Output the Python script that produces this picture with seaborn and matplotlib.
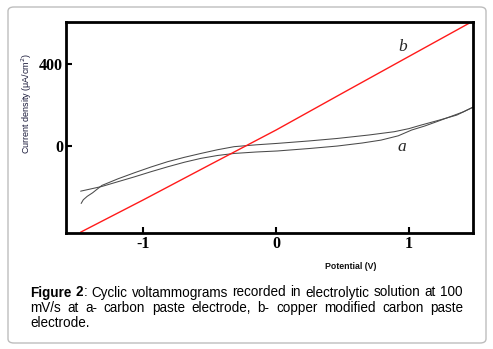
import matplotlib
matplotlib.use("Agg")
import matplotlib.pyplot as plt
import seaborn as sns
import pandas as pd
from matplotlib.patches import FancyBboxPatch

# ---------------- data ----------------
# curve a (carbon paste electrode) - two scan branches
a1_potential = [-1.47, -1.40, -1.31, -1.19, -1.064, -0.94, -0.814, -0.69, -0.565, -0.44, -0.315, -0.15, 0.01, 0.25, 0.46, 0.65, 0.79, 0.92, 1.02, 1.12, 1.21, 1.31, 1.41, 1.49]
a1_current = [-220, -210, -197, -174, -150, -125, -101, -79, -60, -46, -36, -29, -24, -12, 0, 15, 29, 50, 78, 98, 119, 143, 167, 192]
a2_potential = [-1.466, -1.45, -1.42, -1.38, -1.31, -1.19, -1.064, -0.94, -0.814, -0.69, -0.565, -0.44, -0.315, -0.15, 0.01, 0.25, 0.46, 0.70, 0.89, 1.00, 1.09, 1.22, 1.36, 1.49]
a2_current = [-280, -262, -245, -228, -192, -160, -130, -102, -76, -55, -36, -18, -3, 6, 13, 25, 37, 54, 70, 85, 102, 125, 151, 192]
# curve b (copper modified carbon paste electrode)
b_potential = [-1.47, -1.0, -0.5, 0.0, 0.5, 1.0, 1.47]
b_current = [-420, -263, -92, 78, 258, 437, 605]

x_ticks = [-1, 0, 1]
y_ticks = [0, 400]

df_a1 = pd.DataFrame({"Potential": a1_potential, "Current": a1_current})
df_a2 = pd.DataFrame({"Potential": a2_potential, "Current": a2_current})
df_b = pd.DataFrame({"Potential": b_potential, "Current": b_current})

sns.set_theme(style="white")

fig = plt.figure(figsize=(4.93, 3.49), dpi=100)
fig.patch.set_facecolor("white")

# rounded border
border = FancyBboxPatch((8 / 493, 6 / 349), (478 / 493), (336 / 349),
                        boxstyle="round,pad=0,rounding_size=0.012",
                        transform=fig.transFigure, facecolor="none",
                        edgecolor="#bdbdbd", linewidth=1.0)
fig.patches.append(border)

ax = fig.add_axes([66 / 493, 1 - 233 / 349, (472.7 - 66) / 493, (233 - 22) / 349])

sns.lineplot(data=df_a1, x="Potential", y="Current", sort=False, ax=ax,
             color="#4a4a4a", linewidth=0.75, estimator=None)
sns.lineplot(data=df_a2, x="Potential", y="Current", sort=False, ax=ax,
             color="#4a4a4a", linewidth=0.75, estimator=None)
sns.lineplot(data=df_b, x="Potential", y="Current", sort=False, ax=ax,
             color="#ff1a1a", linewidth=1.0, estimator=None)

ax.set_xlim(-1.58, 1.48)
ax.set_ylim(-424, 605)
ax.set_xticks(x_ticks)
ax.set_yticks(y_ticks)
ax.set_xticklabels([str(t) for t in x_ticks], family="Liberation Serif",
                   fontsize=11.5, fontweight="bold")
ax.set_yticklabels([str(t) for t in y_ticks], family="Liberation Serif",
                   fontsize=11.5, fontweight="bold")
ax.tick_params(direction="in", length=4, width=1.5, pad=2, colors="black",
               left=True, bottom=True)
for s in ax.spines.values():
    s.set_visible(True)
    s.set_linewidth(2.0)
    s.set_color("black")
ax.grid(False)

ax.set_xlabel("")
ax.set_ylabel("")
ax.text(0.70, -0.16, "Potential (V)", transform=ax.transAxes, ha="center",
        va="center", family="Liberation Sans", fontsize=6.3, fontweight="bold",
        color="#111111")
ax.text(-0.097, 0.616, "Current density (μA/cm$^2$)", transform=ax.transAxes,
        rotation=90, ha="center", va="center", family="Liberation Sans",
        fontsize=6.5, color="#1a1a3a")

ax.text(0.95, 483, "b", family="Liberation Serif", style="italic",
        fontsize=12.5, ha="center", va="center")
ax.text(0.945, -3, "a", family="Liberation Serif", style="italic",
        fontsize=12.5, ha="center", va="center")

# ---------------- caption (justified) ----------------
cap_font = dict(family="Liberation Sans", fontsize=9.75, color="black")
lines = [
    [[("Figure", "bold")], [("2", "bold"), (":", "normal")], [("Cyclic", "normal")],
     [("voltammograms", "normal")], [("recorded", "normal")], [("in", "normal")],
     [("electrolytic", "normal")], [("solution", "normal")], [("at", "normal")],
     [("100", "normal")]],
    [[(w, "normal")] for w in "mV/s at a- carbon paste electrode, b- copper modified carbon paste".split()],
    [[(w, "normal")] for w in "electrode.".split()],
]
justify = [True, True, False]
line_y = [292.5, 308.0, 323.0]
x_left, x_right = 30.0, 463.0

fig.canvas.draw()
renderer = fig.canvas.get_renderer()


def seg_width(text, weight):
    t = fig.text(0, 0, text, fontweight=weight, **cap_font)
    w = t.get_window_extent(renderer).width
    t.remove()
    return w

space_w = seg_width("a a", "normal") - 2 * seg_width("a", "normal")

for words, jus, yy in zip(lines, justify, line_y):
    widths = [sum(seg_width(s, wt) for s, wt in word) for word in words]
    total = sum(widths)
    if jus and len(words) > 1:
        gap = (x_right - x_left - total) / (len(words) - 1)
    else:
        gap = space_w
    x = x_left
    for word, w in zip(words, widths):
        xs = x
        for s, wt in word:
            fig.text(xs / 493, 1 - yy / 349, s, fontweight=wt, ha="left",
                     va="center", **cap_font)
            xs += seg_width(s, wt)
        x += w + gap

fig.savefig("out.png", dpi=100, facecolor="white")
